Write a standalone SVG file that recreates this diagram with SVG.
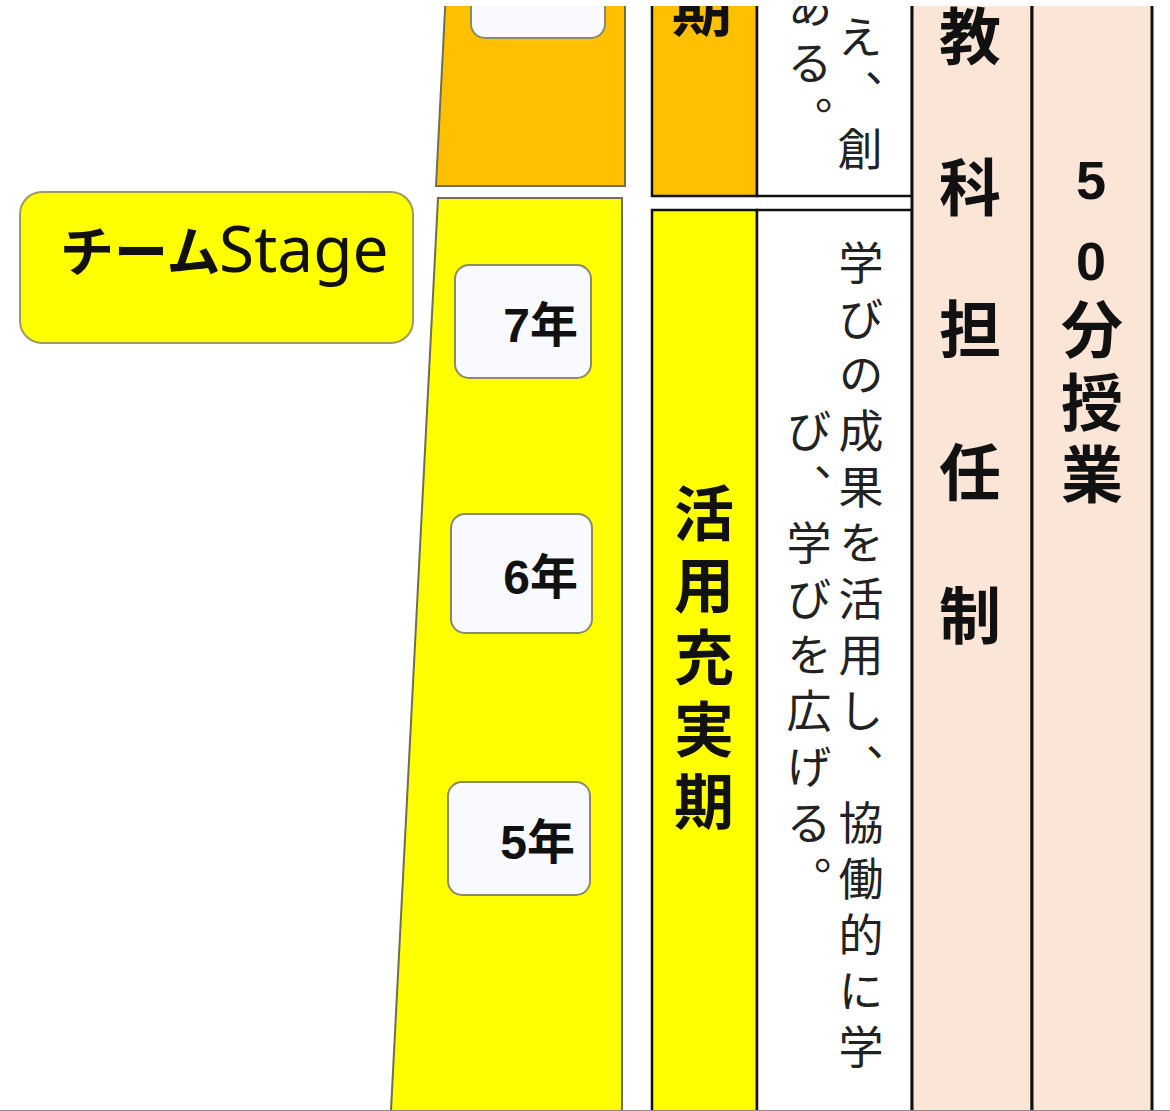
<svg xmlns="http://www.w3.org/2000/svg" width="1170" height="1111" viewBox="0 0 1170 1111">
<defs>
<clipPath id="page"><rect x="0" y="6" width="1170" height="1104"/></clipPath>
<style>
.cell{stroke:#111;stroke-width:2.5}
.pink{fill:#FBE5D6;stroke:#111;stroke-width:3}
.trap{stroke:#6e6e52;stroke-width:2}
.yr{fill:#F8FAFF;stroke:#8a8a66;stroke-width:2}
.yt{font-family:"Liberation Sans","Noto Sans CJK JP",sans-serif;font-weight:700;font-size:48px;fill:#111;text-anchor:end}
.bold{font-family:"Noto Sans CJK JP",sans-serif;font-weight:700;fill:#111;text-anchor:middle}
.vt{font-family:"Noto Sans CJK JP",sans-serif;font-size:45px;fill:#222;writing-mode:vertical-rl;letter-spacing:11px}
</style>
</defs>
<rect width="1170" height="1111" fill="#fff"/>
<g clip-path="url(#page)">
<g id="stage-orange">
<polygon class="trap" points="445.5,0 625,0 625,186 436,186" fill="#FFC000"/>
<rect class="yr" x="471" y="-60" width="134" height="98" rx="14"/>
</g>
<g id="stage-yellow">
<polygon class="trap" points="438,198 622,198 622,1120 390.5,1120" fill="#FFFF00"/>
</g>
<g id="team-stage">
<rect x="20" y="192" width="393" height="151" rx="22" fill="#FFFF00" stroke="#9c9c5c" stroke-width="2"/>
<text y="272" fill="#111"><tspan x="60" font-family="'Noto Sans CJK JP',sans-serif" font-weight="700" font-size="54">チーム</tspan><tspan x="219" font-family="'Noto Sans','Noto Sans CJK JP',sans-serif" font-size="64">Stage</tspan></text>
</g>
<g id="year7">
<rect class="yr" x="455" y="265" width="136" height="113" rx="14"/>
<text class="yt" x="578" y="342">7年</text>
</g>
<g id="year6">
<rect class="yr" x="451" y="514" width="141" height="119" rx="14"/>
<text class="yt" x="578" y="594">6年</text>
</g>
<g id="year5">
<rect class="yr" x="448" y="782" width="142" height="113" rx="14"/>
<text class="yt" x="575" y="859">5年</text>
</g>
<g id="phase-upper">
<rect class="cell" x="652" y="-10" width="105" height="206" fill="#FFC000"/>
<text class="bold" font-size="60"><tspan x="702" y="31">期</tspan></text>
</g>
<g id="desc-upper">
<rect class="cell" x="757" y="-10" width="155" height="206" fill="#fff"/>
<text class="vt" x="860" y="14">え、創</text>
<text class="vt" x="810" y="-16">ある。</text>
</g>
<g id="phase-lower">
<rect class="cell" x="652" y="210" width="105" height="920" fill="#FFFF00"/>
<text class="bold" font-size="60"><tspan x="704" y="536">活</tspan><tspan x="704" y="608">用</tspan><tspan x="704" y="680">充</tspan><tspan x="704" y="752">実</tspan><tspan x="704" y="824">期</tspan></text>
</g>
<g id="desc-lower">
<rect class="cell" x="757" y="210" width="155" height="920" fill="#fff"/>
<text class="vt" x="861" y="240">学びの成果を活用し、協働的に学</text>
<text class="vt" x="809" y="408">び、学びを広げる。</text>
</g>
<g id="teacher-system">
<rect class="pink" x="912" y="-10" width="120" height="1130"/>
<text class="bold" font-size="62"><tspan x="970" y="60">教</tspan><tspan x="970" y="211">科</tspan><tspan x="970" y="353">担</tspan><tspan x="970" y="496">任</tspan><tspan x="970" y="639">制</tspan></text>
</g>
<g id="lesson-length">
<rect class="pink" x="1032" y="-10" width="120" height="1130"/>
<text class="bold" font-size="62"><tspan x="1091" y="199" font-family="'Liberation Sans',sans-serif" font-size="54">5</tspan><tspan x="1091" y="280" font-family="'Liberation Sans',sans-serif" font-size="54">0</tspan><tspan x="1092" y="353">分</tspan><tspan x="1092" y="426">授</tspan><tspan x="1092" y="498">業</tspan></text>
</g>
<g id="connectors"/>
</g>
<line x1="0" y1="1110.5" x2="1170" y2="1110.5" stroke="#8a8a8a" stroke-width="1"/>
</svg>
